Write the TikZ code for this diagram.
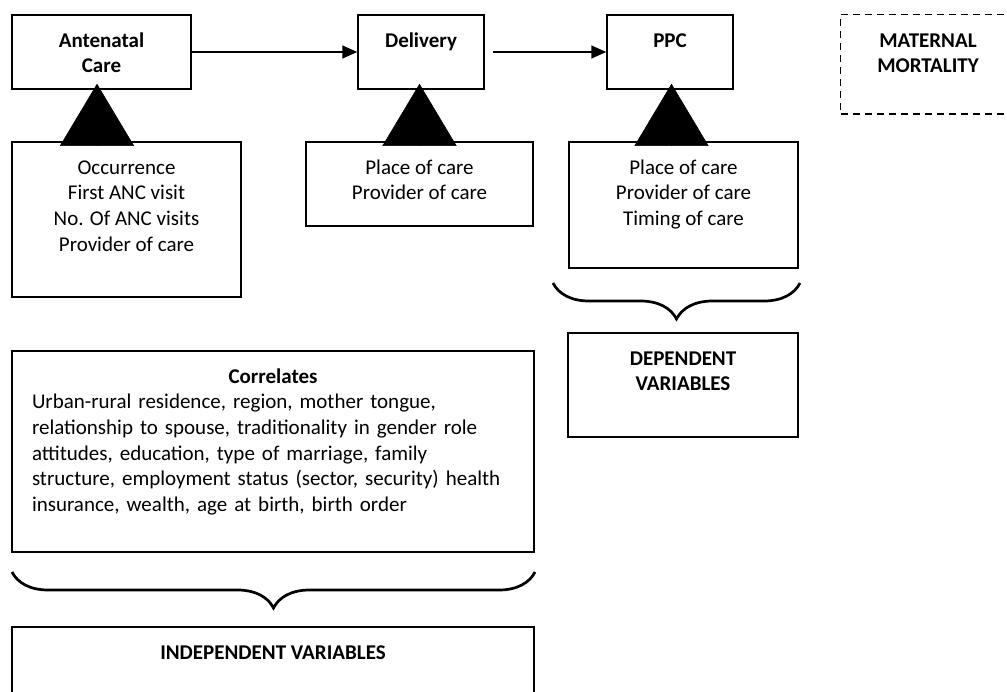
\documentclass[tikz,border=0pt]{standalone}
\usepackage{fontspec}
\setmainfont{Carlito}
\usepackage{tikz}
\usetikzlibrary{arrows.meta,positioning,decorations.pathreplacing,calc}

\begin{document}
\begin{tikzpicture}[
    x=1pt,y=-1pt,
    stage/.style={rectangle,draw=black,line width=1.5pt,inner sep=0pt,align=center,text height=32pt,font=\bfseries\fontsize{21}{25.7}\selectfont},
    detail/.style={rectangle,draw=black,line width=1.5pt,inner sep=0pt,align=center,text height=32pt,font=\fontsize{21}{25.7}\selectfont},
    outcome/.style={stage,draw=none},
    edge/.style={line width=1.5pt,dash pattern=on 7pt off 5pt},
    flow/.style={-{Triangle[length=15pt,width=13pt]},line width=1.5pt},
    push/.style={-{Triangle[length=62pt,width=74pt]},line width=0.5pt},
    brace/.style={decorate,decoration={brace,amplitude=36pt},line width=2.7pt}
]
\useasboundingbox (0,0) rectangle (1007,691);

% Stages of care
\node[stage,minimum width=179pt,text height=57.7pt,text depth=16.3pt] (anc) at (101.5,52) {Antenatal\\Care};
\node[stage,minimum width=126pt,text depth=42pt] (del) at (421,52) {Delivery};
\node[stage,minimum width=126pt,text depth=42pt] (ppc) at (670,52) {PPC};
\node[outcome,minimum width=174pt,text height=57.7pt,text depth=40.3pt] (mm) at (928,64) {MATERNAL\\MORTALITY};
\draw[edge] (mm.north east) -- (mm.north west) -- (mm.south west) -- (mm.south east);

% Measures of each stage
\node[detail,minimum width=229pt,text height=109.1pt,text depth=45.9pt] (occ) at (126.5,219.5) {Occurrence\\First ANC visit\\No. Of ANC visits\\Provider of care};
\node[detail,minimum width=227pt,text height=57.7pt,text depth=26.3pt] (pdel) at (419.5,184) {Place of care\\Provider of care};
\node[detail,minimum width=229pt,text height=83.4pt,text depth=42.6pt] (pppc) at (683.5,205) {Place of care\\Provider of care\\Timing of care};

% Variable groups
\node[detail,align=left,inner xsep=20pt,text width=482pt,text depth=169pt] (corr) at (273,451.5) {{\centering\bfseries Correlates\par}Urban-rural residence, region, mother tongue,\\relationship to spouse, traditionality in gender role\\attitudes, education, type of marriage, family\\structure, employment status (sector, security) health\\insurance, wealth, age at birth, birth order};
\node[stage,minimum width=230pt,text height=57.7pt,text depth=46.3pt] (dep) at (683,385) {DEPENDENT\\VARIABLES};
\node[stage,minimum width=522pt,text depth=68pt] (indep) at (273,677) {INDEPENDENT VARIABLES};

% Arrows
\draw[flow] (anc) -- (del);
\draw[flow,shorten <=8pt] (del) -- (ppc);
\draw[push] ([xshift=-4.5pt,yshift=-3pt]anc.south |- occ.north) -- ([xshift=-4.5pt,yshift=6pt]anc.south);
\draw[push] ([xshift=-1.5pt,yshift=-3pt]del.south |- pdel.north) -- ([xshift=-1.5pt,yshift=6pt]del.south);
\draw[push] ([xshift=1.5pt,yshift=-3pt]ppc.south |- pppc.north) -- ([xshift=1.5pt,yshift=6pt]ppc.south);

% Braces
\draw[brace] (800,283) -- (553,283);
\draw[brace] (535,572) -- (12,572);
\end{tikzpicture}
\end{document}
